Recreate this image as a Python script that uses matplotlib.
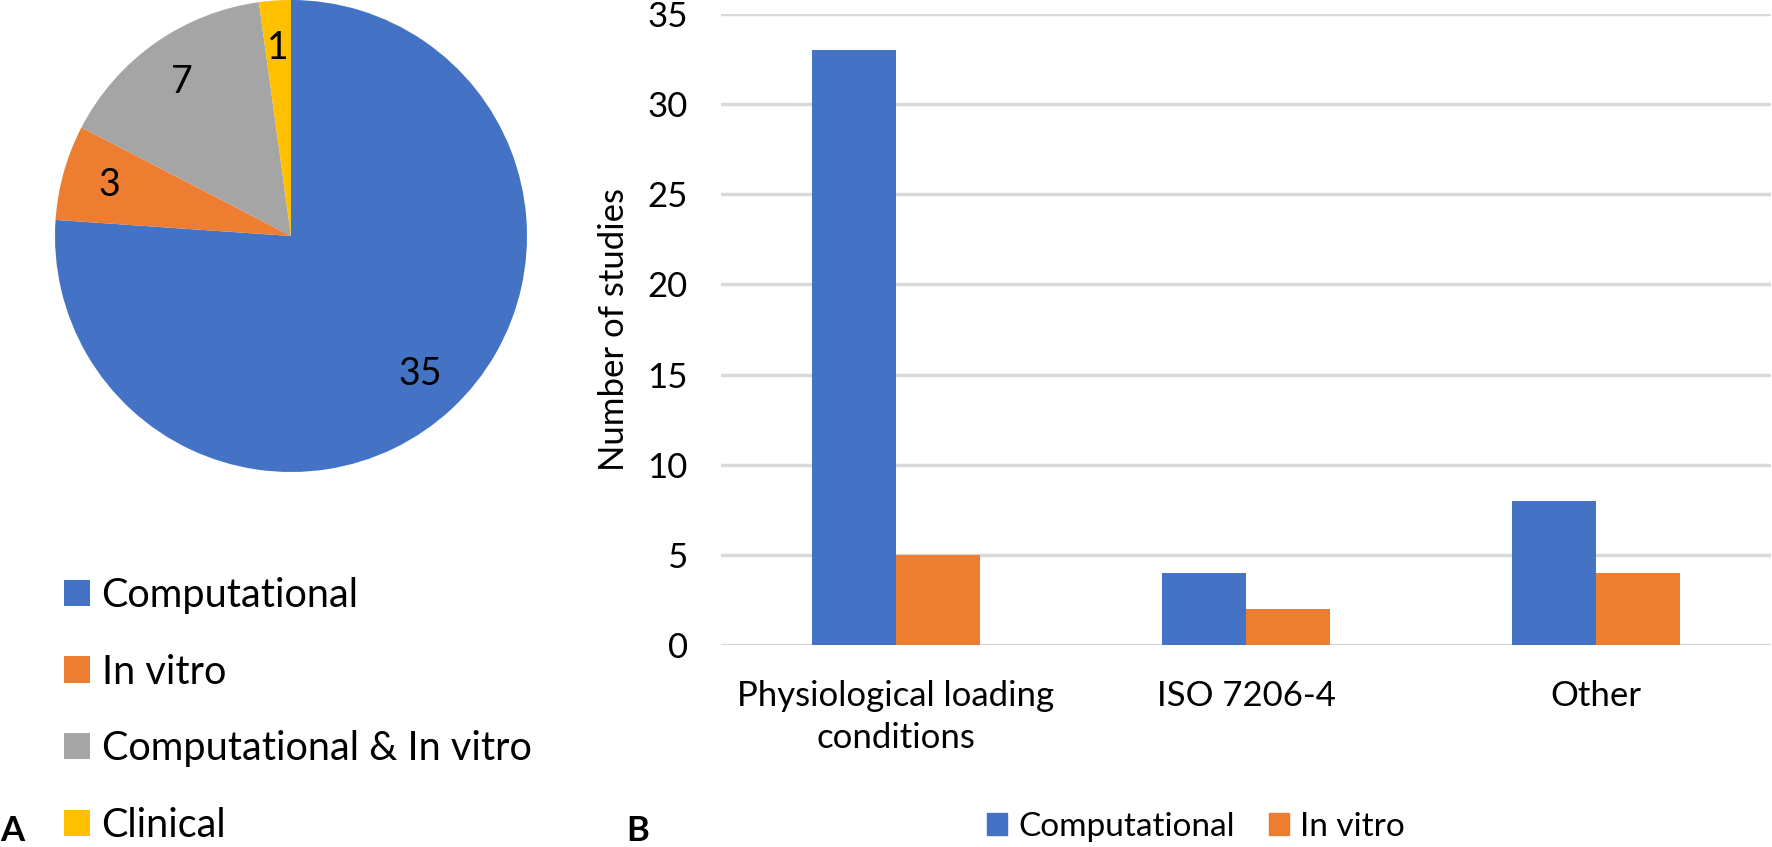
import matplotlib.pyplot as plt
from matplotlib.patches import Patch

plt.rcParams['font.family'] = ['Lato', 'DejaVu Sans']

# pie data (A)
pie_labels = ['Computational', 'In vitro', 'Computational & In vitro', 'Clinical']
pie_values = [35, 3, 7, 1]
pie_colors = ['#4472C4', '#ED7D31', '#A5A5A5', '#FFC000']

# bar data (B)
categories = ['Physiological loading\nconditions', 'ISO 7206-4', 'Other']
computational = [33, 4, 8]
in_vitro = [5, 2, 4]
yticks = [0, 5, 10, 15, 20, 25, 30, 35]

W, H = 1772, 847
fig = plt.figure(figsize=(W / 100, H / 100), dpi=100)

# --- A: pie ---
ax1 = fig.add_axes([55 / W, 1 - 472 / H, 472 / W, 472 / H])
total = sum(pie_values)
wedges, _, autotexts = ax1.pie(pie_values, colors=pie_colors, startangle=90,
                               counterclock=False, pctdistance=0.8,
                               autopct=lambda p: '%d' % round(p * total / 100),
                               textprops={'fontsize': 27, 'color': 'black'})
ax1.set_xlim(-1, 1)
ax1.set_ylim(-1, 1)

fig.legend(wedges, pie_labels, loc='upper left',
           bbox_to_anchor=(64 / W, 1 - 577 / H), frameon=False, fontsize=28.5,
           handlelength=0.65, handleheight=0.65, handletextpad=0.3,
           labelspacing=1.0, borderpad=0, borderaxespad=0)

# --- B: grouped bars ---
ax2 = fig.add_axes([721 / W, 1 - 645 / H, 1050 / W, 631 / H])
x = range(len(categories))
w = 0.24
ax2.bar([i - w / 2 for i in x], computational, width=w, color='#4472C4', zorder=3)
ax2.bar([i + w / 2 for i in x], in_vitro, width=w, color='#ED7D31', zorder=3)
ax2.set_xlim(-0.5, len(categories) - 0.5)
ax2.set_ylim(0, 35)
ax2.set_yticks(yticks)
ax2.set_xticks(list(x))
ax2.set_xticklabels(categories, linespacing=1.4)
ax2.tick_params(axis='both', length=0, labelsize=25)
ax2.tick_params(axis='y', pad=24)
ax2.tick_params(axis='x', pad=25)
ax2.yaxis.grid(True, color='#D9D9D9', linewidth=2.5, zorder=0)
ax2.set_axisbelow(True)
for s in ax2.spines.values():
    s.set_visible(False)
ax2.set_ylabel('Number of studies', fontsize=25, labelpad=12)

fig.legend([Patch(color='#4472C4'), Patch(color='#ED7D31')],
           ['Computational', 'In vitro'], loc='center',
           bbox_to_anchor=(1196 / W, 1 - 827 / H), ncol=2, frameon=False,
           fontsize=24, handlelength=0.6, handleheight=0.65,
           handletextpad=0.35, columnspacing=1.0, borderpad=0)

fig.text(0 / W, 1 - 841 / H, 'A', fontsize=25, fontweight='bold', va='baseline')
fig.text(626 / W, 1 - 841 / H, 'B', fontsize=25, fontweight='bold', va='baseline')

fig.savefig('out.png', dpi=100)
